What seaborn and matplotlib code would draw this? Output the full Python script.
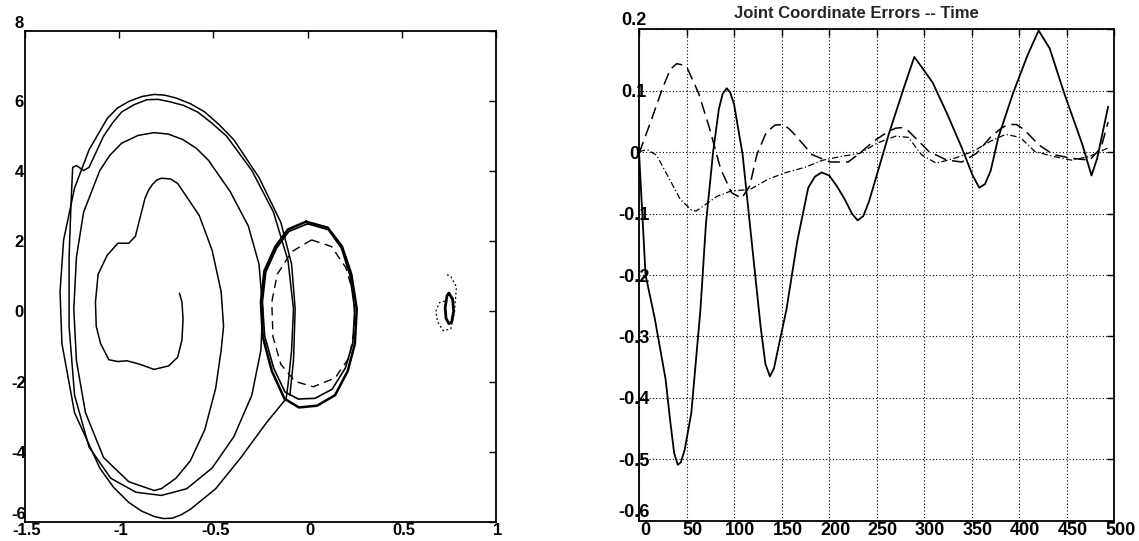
import numpy as np
import pandas as pd
import matplotlib
matplotlib.use("Agg")
import matplotlib.pyplot as plt
import matplotlib.transforms as mtrans
import seaborn as sns

# ---------------- Left panel: phase portrait curves (data units) ----------------
spiral_x = [-0.680, -0.667, -0.661, -0.667, -0.690, -0.738, -0.815, -0.891, -0.959, -1.007,
            -1.055, -1.099, -1.122, -1.126, -1.112, -1.064, -1.007, -0.949, -0.914, -0.891,
            -0.863, -0.845, -0.824, -0.800, -0.776, -0.728, -0.690, -0.661, -0.575, -0.507,
            -0.459, -0.446, -0.459, -0.488, -0.546, -0.623, -0.699, -0.776, -0.815,
            -0.949, -1.083, -1.179, -1.227, -1.241, -1.227, -1.189, -1.103, -1.050, -0.987,
            -0.900, -0.815, -0.740, -0.661, -0.590, -0.526, -0.411, -0.315, -0.258, -0.238,
            -0.248, -0.296, -0.392, -0.507, -0.642, -0.776, -0.911,
            -1.045, -1.160, -1.237, -1.266, -1.266, -1.256, -1.247, -1.227, -1.189, -1.160,
            -1.083, -1.035, -0.987, -0.920, -0.853, -0.795, -0.738, -0.660, -0.584, -0.510,
            -0.430, -0.296, -0.181, -0.104, -0.075, -0.085, -0.104, -0.114]
spiral_y = [0.515, 0.268, -0.225, -0.817, -1.310, -1.556, -1.655, -1.507, -1.408, -1.430,
            -1.380, -0.915, -0.422, 0.268, 1.057, 1.600, 1.945, 1.945, 2.142, 2.635,
            3.227, 3.450, 3.621, 3.750, 3.799, 3.780, 3.650, 3.424, 2.734, 1.748,
            0.564, -0.422, -1.112, -2.197, -3.381, -4.268, -4.761, -5.057, -5.110,
            -4.860, -4.170, -2.890, -1.410, 0.070, 1.550, 2.830, 4.020, 4.450, 4.800,
            5.020, 5.100, 5.060, 4.900, 4.650, 4.310, 3.420, 2.440, 1.350, 0.070,
            -1.110, -2.390, -3.580, -4.470, -5.060, -5.250, -5.160,
            -4.760, -3.870, -2.390, -0.420, 1.550, 3.030, 4.110, 4.160, 4.020, 4.110,
            5.000, 5.380, 5.690, 5.900, 6.040, 6.050, 5.990, 5.880, 5.690, 5.380,
            5.000, 4.020, 2.830, 1.450, 0.070, -1.110, -2.100, -2.490]

outer_x = [-0.114, -0.219, -0.354, -0.488, -0.623, -0.670, -0.718, -0.765, -0.815, -0.880,
           -0.949, -1.030, -1.103, -1.237, -1.304, -1.314, -1.295, -1.237, -1.160, -1.064,
           -1.010, -0.949, -0.880, -0.815, -0.760, -0.699, -0.620, -0.546, -0.470, -0.392,
           -0.258, -0.142, -0.085, -0.066, -0.075, -0.094]
outer_y = [-2.490, -3.180, -4.170, -5.060, -5.650, -5.800, -5.900, -5.910, -5.850, -5.700,
           -5.450, -5.020, -4.470, -2.890, -0.920, 0.560, 2.040, 3.520, 4.610, 5.500,
           5.800, 5.990, 6.130, 6.190, 6.170, 6.090, 5.920, 5.690, 5.330, 4.900,
           3.820, 2.540, 1.350, 0.070, -1.410, -2.390]

circle1_x = [-0.008, 0.107, 0.183, 0.232, 0.261, 0.251, 0.213, 0.146, 0.050, -0.046,
             -0.123, -0.190, -0.238, -0.248, -0.229, -0.171, -0.104, -0.008]
circle1_y = [2.56, 2.39, 1.85, 1.06, 0.07, -0.92, -1.70, -2.39, -2.69, -2.74,
             -2.49, -1.70, -0.72, 0.27, 1.16, 1.85, 2.34, 2.56]
circle2_x = [0.000, 0.110, 0.180, 0.225, 0.250, 0.240, 0.200, 0.130, 0.040, -0.050,
             -0.120, -0.180, -0.228, -0.240, -0.222, -0.165, -0.100, 0.000]
circle2_y = [2.50, 2.33, 1.80, 1.02, 0.05, -0.90, -1.62, -2.22, -2.48, -2.50,
             -2.30, -1.62, -0.70, 0.25, 1.12, 1.80, 2.28, 2.50]

dashed_circle_x = [0.021, 0.127, 0.203, 0.245, 0.251, 0.222, 0.146, 0.030, -0.066, -0.142,
                   -0.184, -0.190, -0.161, -0.085, 0.021]
dashed_circle_y = [2.04, 1.85, 1.25, 0.47, -0.42, -1.31, -1.90, -2.15, -2.00, -1.51,
                   -0.72, 0.27, 1.06, 1.70, 2.04]

small_x = [0.750, 0.770, 0.775, 0.765, 0.750, 0.735, 0.730, 0.740, 0.750]
small_y = [0.52, 0.35, 0.00, -0.30, -0.35, -0.20, 0.10, 0.45, 0.52]
small_dot_x = [0.740, 0.760, 0.790, 0.780, 0.760, 0.720, 0.690, 0.680, 0.700, 0.730]
small_dot_y = [1.05, 1.00, 0.70, 0.00, -0.50, -0.55, -0.30, 0.00, 0.25, 0.30]

left_xticks = [-1.5, -1, -0.5, 0, 0.5, 1]
left_xlabels = ["-1.5", "-1", "-0.5", "0", "0.5", "1"]
left_yticks = [-6, -4, -2, 0, 2, 4, 6, 8]
left_ylabels = ["-6", "-4", "-2", "0", "2", "4", "6", "8"]

# ---------------- Right panel: joint coordinate errors ----------------
title_right = "Joint Coordinate Errors -- Time"

solid_t = [0, 6.9, 16.5, 28, 33, 37, 40.8, 44, 48, 55, 64.6, 70.4, 78, 84, 88, 92.3, 96,
           100, 109, 118.5, 128, 133, 137.7, 142, 147, 155, 166.5, 178, 185, 192, 200, 208,
           216.5, 224, 230, 236, 242, 251, 262.7, 278, 289.6, 299, 309, 324, 339.6, 351,
           358, 364, 370, 378, 393.5, 408.8, 420.4, 432, 447.3, 466.5, 476, 482, 493.5]
solid_e = [0.000, -0.20, -0.27, -0.37, -0.44, -0.49, -0.509, -0.505, -0.485, -0.425,
           -0.257, -0.117, 0.001, 0.070, 0.095, 0.104, 0.097, 0.078, -0.004, -0.145,
           -0.285, -0.345, -0.365, -0.352, -0.315, -0.257, -0.145, -0.058, -0.040, -0.033,
           -0.038, -0.055, -0.077, -0.100, -0.111, -0.104, -0.080, -0.033, 0.029, 0.102,
           0.155, 0.135, 0.113, 0.063, 0.007, -0.038, -0.058, -0.052, -0.030, 0.024,
           0.096, 0.158, 0.198, 0.169, 0.096, 0.012, -0.038, -0.010, 0.074]

dash_t = [0, 12.7, 24.2, 33, 39.6, 46, 51, 62.7, 74, 85.8, 97.3, 108, 116.5, 124, 133.8,
          143, 151, 158, 166.5, 182, 201, 220, 232, 247, 262.7, 270, 276, 283, 289.6, 305,
          324, 339.6, 355, 370, 382, 389, 397, 405, 420.4, 436, 455, 474, 486, 493.5]
dash_e = [-0.002, 0.051, 0.102, 0.135, 0.144, 0.142, 0.136, 0.096, 0.040, -0.027,
          -0.066, -0.075, -0.055, -0.004, 0.032, 0.044, 0.045, 0.038, 0.024, -0.004,
          -0.016, -0.016, -0.002, 0.018, 0.034, 0.039, 0.040, 0.035, 0.025, 0.001,
          -0.013, -0.016, -0.002, 0.025, 0.040, 0.045, 0.045, 0.037, 0.012, -0.004,
          -0.010, -0.013, 0.007, 0.049]

dashdot_t = [0, 8.8, 18.5, 30, 43.5, 55, 60, 66.5, 82, 97.3, 116.5, 135.8, 155, 174,
             193.5, 212.7, 232, 251, 270, 283.5, 297, 312.7, 332, 351, 370, 385.8, 401,
             416.5, 436, 455, 474, 493.5]
dashdot_e = [0.001, 0.004, -0.005, -0.038, -0.077, -0.094, -0.096, -0.089, -0.072,
             -0.063, -0.061, -0.044, -0.033, -0.025, -0.013, -0.007, -0.002, 0.015, 0.026,
             0.024, -0.004, -0.018, -0.010, 0.001, 0.018, 0.029, 0.024, 0.001, -0.007,
             -0.013, -0.007, 0.007]

right_xticks = [0, 50, 100, 150, 200, 250, 300, 350, 400, 450, 500]
right_yticks = [-0.6, -0.5, -0.4, -0.3, -0.2, -0.1, 0, 0.1, 0.2]
right_ylabels = ["-0.6", "-0.5", "-0.4", "-0.3", "-0.2", "-0.1", "0", "0.1", "0.2"]

# ---------------- Drawing ----------------
sns.set_style("white")
plt.rcParams['font.family'] = ['Liberation Sans', 'DejaVu Sans']
plt.rcParams['font.weight'] = 'bold'

W, H = 1139, 541
fig = plt.figure(figsize=(W / 100, H / 100), dpi=100)
axL = fig.add_axes([25 / W, 1 - 521.7 / H, 471 / W, 490.7 / H])
axR = fig.add_axes([639 / W, 1 - 520.7 / H, 475.3 / W, 491.4 / H])


def draw(ax, xs, ys, **kw):
    df = pd.DataFrame({"x": xs, "y": ys})
    sns.lineplot(data=df, x="x", y="y", sort=False, estimator=None, ax=ax,
                 color="black", **kw)


draw(axL, spiral_x, spiral_y, lw=1.1)
draw(axL, outer_x, outer_y, lw=1.1)
draw(axL, circle1_x, circle1_y, lw=1.8)
draw(axL, circle2_x, circle2_y, lw=1.2)
draw(axL, dashed_circle_x, dashed_circle_y, lw=1.0, linestyle=(0, (6, 4)))
draw(axL, small_x, small_y, lw=2.0)
draw(axL, small_dot_x, small_dot_y, lw=0.9, linestyle=(0, (1.5, 2)))

axL.set_xlim(-1.5, 1)
axL.set_ylim(-6, 8)
axL.set_xticks(left_xticks)
axL.set_xticklabels(left_xlabels)
axL.set_yticks(left_yticks)
axL.set_yticklabels(left_ylabels)

draw(axR, solid_t, solid_e, lw=1.3)
draw(axR, dash_t, dash_e, lw=1.1, linestyle=(0, (8, 4)))
draw(axR, dashdot_t, dashdot_e, lw=0.9, linestyle=(0, (5, 2, 1, 2)))

axR.set_xlim(0, 500)
axR.set_ylim(-0.6, 0.2)
axR.set_xticks(right_xticks)
axR.set_yticks(right_yticks)
axR.set_yticklabels(right_ylabels)
axR.grid(True, color="black", linestyle=(0, (1, 2)), linewidth=0.8)
fig.text(856 / W, 1 - 14 / H, title_right, ha="center", va="center",
         fontsize=12, fontweight="bold")

for ax, fs, ypad, xshift in ((axL, 12, 4.3, 2), (axR, 13, 3.6, 6)):
    ax.set_xlabel("")
    ax.set_ylabel("")
    for s in ax.spines.values():
        s.set_color("black")
        s.set_linewidth(1.3)
        s.set_visible(True)
    ax.tick_params(direction="in", length=5, width=1, colors="black",
                   top=True, right=True, labelsize=fs)
    ax.tick_params(axis="y", pad=ypad)
    ax.tick_params(axis="x", pad=1)
    ylabs = ax.get_yticklabels()
    for i, lab in enumerate(ylabs):
        lab.set_fontweight("bold")
        lab.set_horizontalalignment("center")
        if i == 0 or i == len(ylabs) - 1:
            lab.set_verticalalignment("bottom")
    off = mtrans.ScaledTranslation(xshift / 100, 0, fig.dpi_scale_trans)
    for lab in ax.get_xticklabels():
        lab.set_fontweight("bold")
        lab.set_transform(lab.get_transform() + off)

fig.savefig("out.png", dpi=100, facecolor="white")
